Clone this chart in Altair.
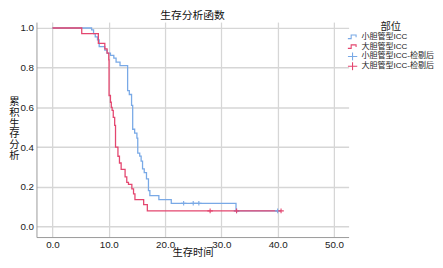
import altair as alt
import pandas as pd

# ---- data ----
series_names = ["小胆管型ICC", "大胆管型ICC", "小胆管型ICC-检剔后", "大胆管型ICC-检剔后"]

small_x = [0, 6.95, 7.3, 7.6, 8.0, 8.3, 9.3, 9.7, 10.3, 10.9, 11.3, 12.0, 13.35, 13.65,
           14.05, 14.25, 14.6, 15.0, 15.15, 15.5, 15.75, 16.0, 16.3, 16.7, 17.05, 17.3,
           18.9, 21.1, 32.6, 40.0]
small_y = [1.0, 0.99, 0.972, 0.955, 0.94, 0.906, 0.889, 0.873, 0.862, 0.848, 0.828, 0.81,
           0.684, 0.665, 0.61, 0.49, 0.47, 0.445, 0.37, 0.355, 0.33, 0.29, 0.272, 0.24,
           0.181, 0.156, 0.136, 0.117, 0.079, 0.079]

large_x = [0, 5.2, 8.15, 9.3, 9.7, 10.0, 10.05, 10.3, 10.45, 10.6, 10.8, 11.05, 11.2,
           11.63, 11.9, 12.2, 12.9, 13.2, 13.5, 14.1, 14.4, 14.65, 16.2, 16.85, 40.6]
large_y = [1.0, 0.972, 0.922, 0.895, 0.873, 0.84, 0.66, 0.626, 0.60, 0.585, 0.55, 0.51,
           0.40, 0.354, 0.32, 0.288, 0.25, 0.222, 0.212, 0.19, 0.165, 0.136, 0.11, 0.079,
           0.079]

small_cens_x = [23.3, 25.0, 26.0, 32.7, 40.0]
small_cens_y = [0.117, 0.117, 0.117, 0.079, 0.079]
large_cens_x = [28.0, 32.7, 40.6]
large_cens_y = [0.079, 0.079, 0.079]

x_ticks = [0, 10, 20, 30, 40, 50]
y_ticks = [0.0, 0.2, 0.4, 0.6, 0.8, 1.0]

colors = ["#79a9e6", "#e4466f", "#79a9e6", "#e4466f"]
step_path = "M-1.25,0.45H-0.35V-0.45H0.9V0.1"
cross_path = "M0,-1V1M-1.2,0H1.2"
shapes = [step_path, step_path, cross_path, cross_path]

lines = pd.concat([
    pd.DataFrame({"t": small_x, "s": small_y, "组": series_names[0]}),
    pd.DataFrame({"t": large_x, "s": large_y, "组": series_names[1]}),
])
cens = pd.concat([
    pd.DataFrame({"t": small_cens_x, "s": small_cens_y, "组": series_names[2]}),
    pd.DataFrame({"t": large_cens_x, "s": large_cens_y, "组": series_names[3]}),
])

FONT = "Liberation Sans, Noto Sans CJK SC, sans-serif"

xs = alt.Scale(domain=[-2.84, 52.6], nice=False, zero=False)
ys = alt.Scale(domain=[-0.053, 1.0297], nice=False, zero=False)
cs = alt.Scale(domain=series_names, range=colors)
ss = alt.Scale(domain=series_names, range=shapes)

legend = alt.Legend(
    title="部位", orient="none", legendX=317, legendY=0,
    titleAnchor="middle", titleAlign="center", titleFontSize=10.5, titleFontWeight="normal",
    titleColor="#222", titleFont=FONT, titlePadding=0,
    labelFontSize=8.2, labelColor="#222", labelFont=FONT, labelOffset=4,
    symbolSize=64, symbolStrokeWidth=1.1, rowPadding=0, clipHeight=9,
    symbolFillColor="transparent", labelLimit=200,
)

x_axis = alt.Axis(values=x_ticks, format=".1f", title="生存时间", grid=True,
                  ticks=False, labelPadding=3, titleBaseline="bottom", titleY=20.5,
                  titleFontSize=10.5)
y_axis = alt.Axis(values=y_ticks, format=".1f",
                  title=["累", "积", "生", "存", "分", "析"],
                  titleAngle=0, titleX=-23, titleY=81, titleBaseline="middle",
                  titleAlign="center", titleLineHeight=11, titleFontSize=10.5,
                  grid=True, ticks=False, labelPadding=3)

line_layer = alt.Chart(lines).mark_line(interpolate="step-after", strokeWidth=1.3).encode(
    x=alt.X("t:Q", scale=xs, axis=x_axis),
    y=alt.Y("s:Q", scale=ys, axis=y_axis),
    stroke=alt.Stroke("组:N", scale=cs, legend=None),
    detail="组:N",
)

cens_layer = alt.Chart(cens).mark_point(filled=False, size=22, strokeWidth=1.1, opacity=1).encode(
    x=alt.X("t:Q", scale=xs, axis=x_axis),
    y=alt.Y("s:Q", scale=ys, axis=y_axis),
    color=alt.Color("组:N", scale=cs, legend=legend),
    shape=alt.Shape("组:N", scale=ss, legend=legend),
)

chart = alt.layer(line_layer, cens_layer).properties(
    width=318, height=219,
    title=alt.TitleParams("生存分析函数", fontSize=11, fontWeight="normal", font=FONT,
                          color="#111", offset=1, anchor="middle"),
    autosize=alt.AutoSizeParams(type="none"),
    padding={"left": 29, "top": 12, "right": 88, "bottom": 21},
).resolve_scale(stroke="independent").configure_view(stroke=None).configure_axis(
    labelFont=FONT, titleFont=FONT, labelFontSize=10, titleFontSize=11,
    labelColor="#222", titleColor="#111", titleFontWeight="normal",
    gridColor="#d6d6d6", gridWidth=1.3, domainColor="#999", domainWidth=1,
)

chart.save("out.html", embed_options={"renderer": "svg", "actions": False})
